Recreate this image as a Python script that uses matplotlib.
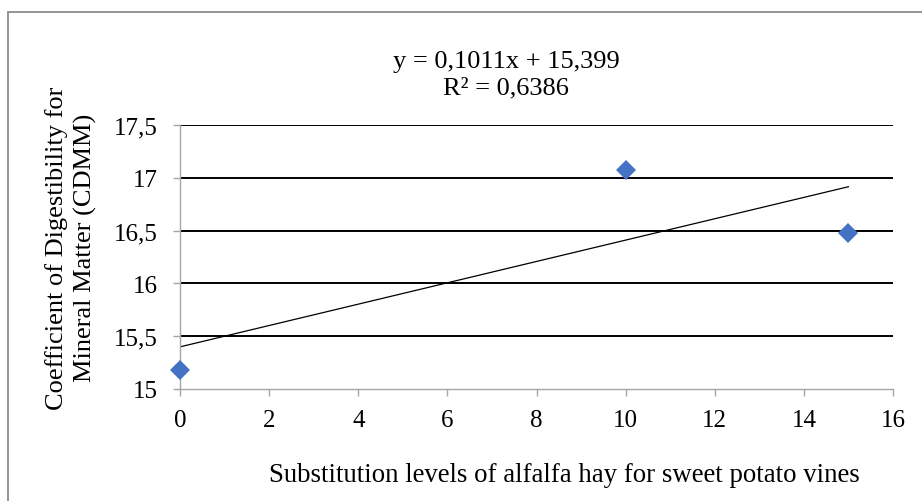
import matplotlib
matplotlib.use('Agg')
import matplotlib.pyplot as plt
from matplotlib.patches import Rectangle
from matplotlib.ticker import FuncFormatter
import numpy as np

plt.rcParams['font.family'] = ['Liberation Serif', 'DejaVu Serif']

# data
levels = [0, 10, 15]
cdmm = [15.18, 17.07, 16.48]
slope, intercept = 0.1011, 15.399
eq_text = 'y = 0,1011x + 15,399\nR² = 0,6386'
xticks = np.arange(0, 17, 2)
yticks = np.arange(15, 17.51, 0.5)

W, H = 922, 502
fig = plt.figure(figsize=(W / 100, H / 100), dpi=100)
ax = fig.add_axes([180 / W, 1 - 390 / H, (893 - 180) / W, (390 - 126) / H])

# outer chart border (runs off the right/bottom edge like the reference)
fig.patches.append(Rectangle((7.5 / W, -0.2), 1.2, 1.2 - 12.5 / H,
                             transform=fig.transFigure, fill=False,
                             edgecolor='#8c8c8c', lw=1.3))

for y in yticks[1:]:
    ax.axhline(y, color='black', lw=1.4, zorder=1)

xs = np.array([0, max(levels)])
ax.plot(xs, slope * xs + intercept, color='black', lw=0.9, zorder=2)
ax.plot(levels, cdmm, linestyle='none', marker='D', markersize=10.5,
        markerfacecolor='#4472C4', markeredgewidth=0, zorder=3, clip_on=False)

ax.set_xlim(0, 16)
ax.set_ylim(15, 17.5)
ax.set_xticks(xticks)
ax.set_yticks(yticks)
fmt = lambda v, p: ('%g' % v).replace('.', ',')
ax.yaxis.set_major_formatter(FuncFormatter(fmt))
ax.xaxis.set_major_formatter(FuncFormatter(fmt))

for s in ['top', 'right']:
    ax.spines[s].set_visible(False)
for s in ['left', 'bottom']:
    ax.spines[s].set_color('#a6a6a6')
    ax.spines[s].set_linewidth(1.0)
ax.tick_params(axis='both', colors='#a6a6a6', labelcolor='black',
               labelsize=18, length=5.2, width=1.0)
ax.tick_params(axis='y', pad=11)
ax.tick_params(axis='x', pad=9)

fig.text(71 / W, 1 - 248 / H,
         'Coefficient of Digestibility for\nMineral Matter (CDMM)',
         rotation=90, ha='center', va='center', multialignment='center',
         fontsize=19, linespacing=1.3)
fig.text(564 / W, 1 - 482 / H,
         'Substitution levels of alfalfa hay for sweet potato vines',
         ha='center', va='baseline', fontsize=19.3)
fig.text(506 / W, 1 - 75 / H, eq_text, ha='center', va='center',
         multialignment='center', fontsize=19, linespacing=1.25)

fig.savefig('out.png', dpi=100)
